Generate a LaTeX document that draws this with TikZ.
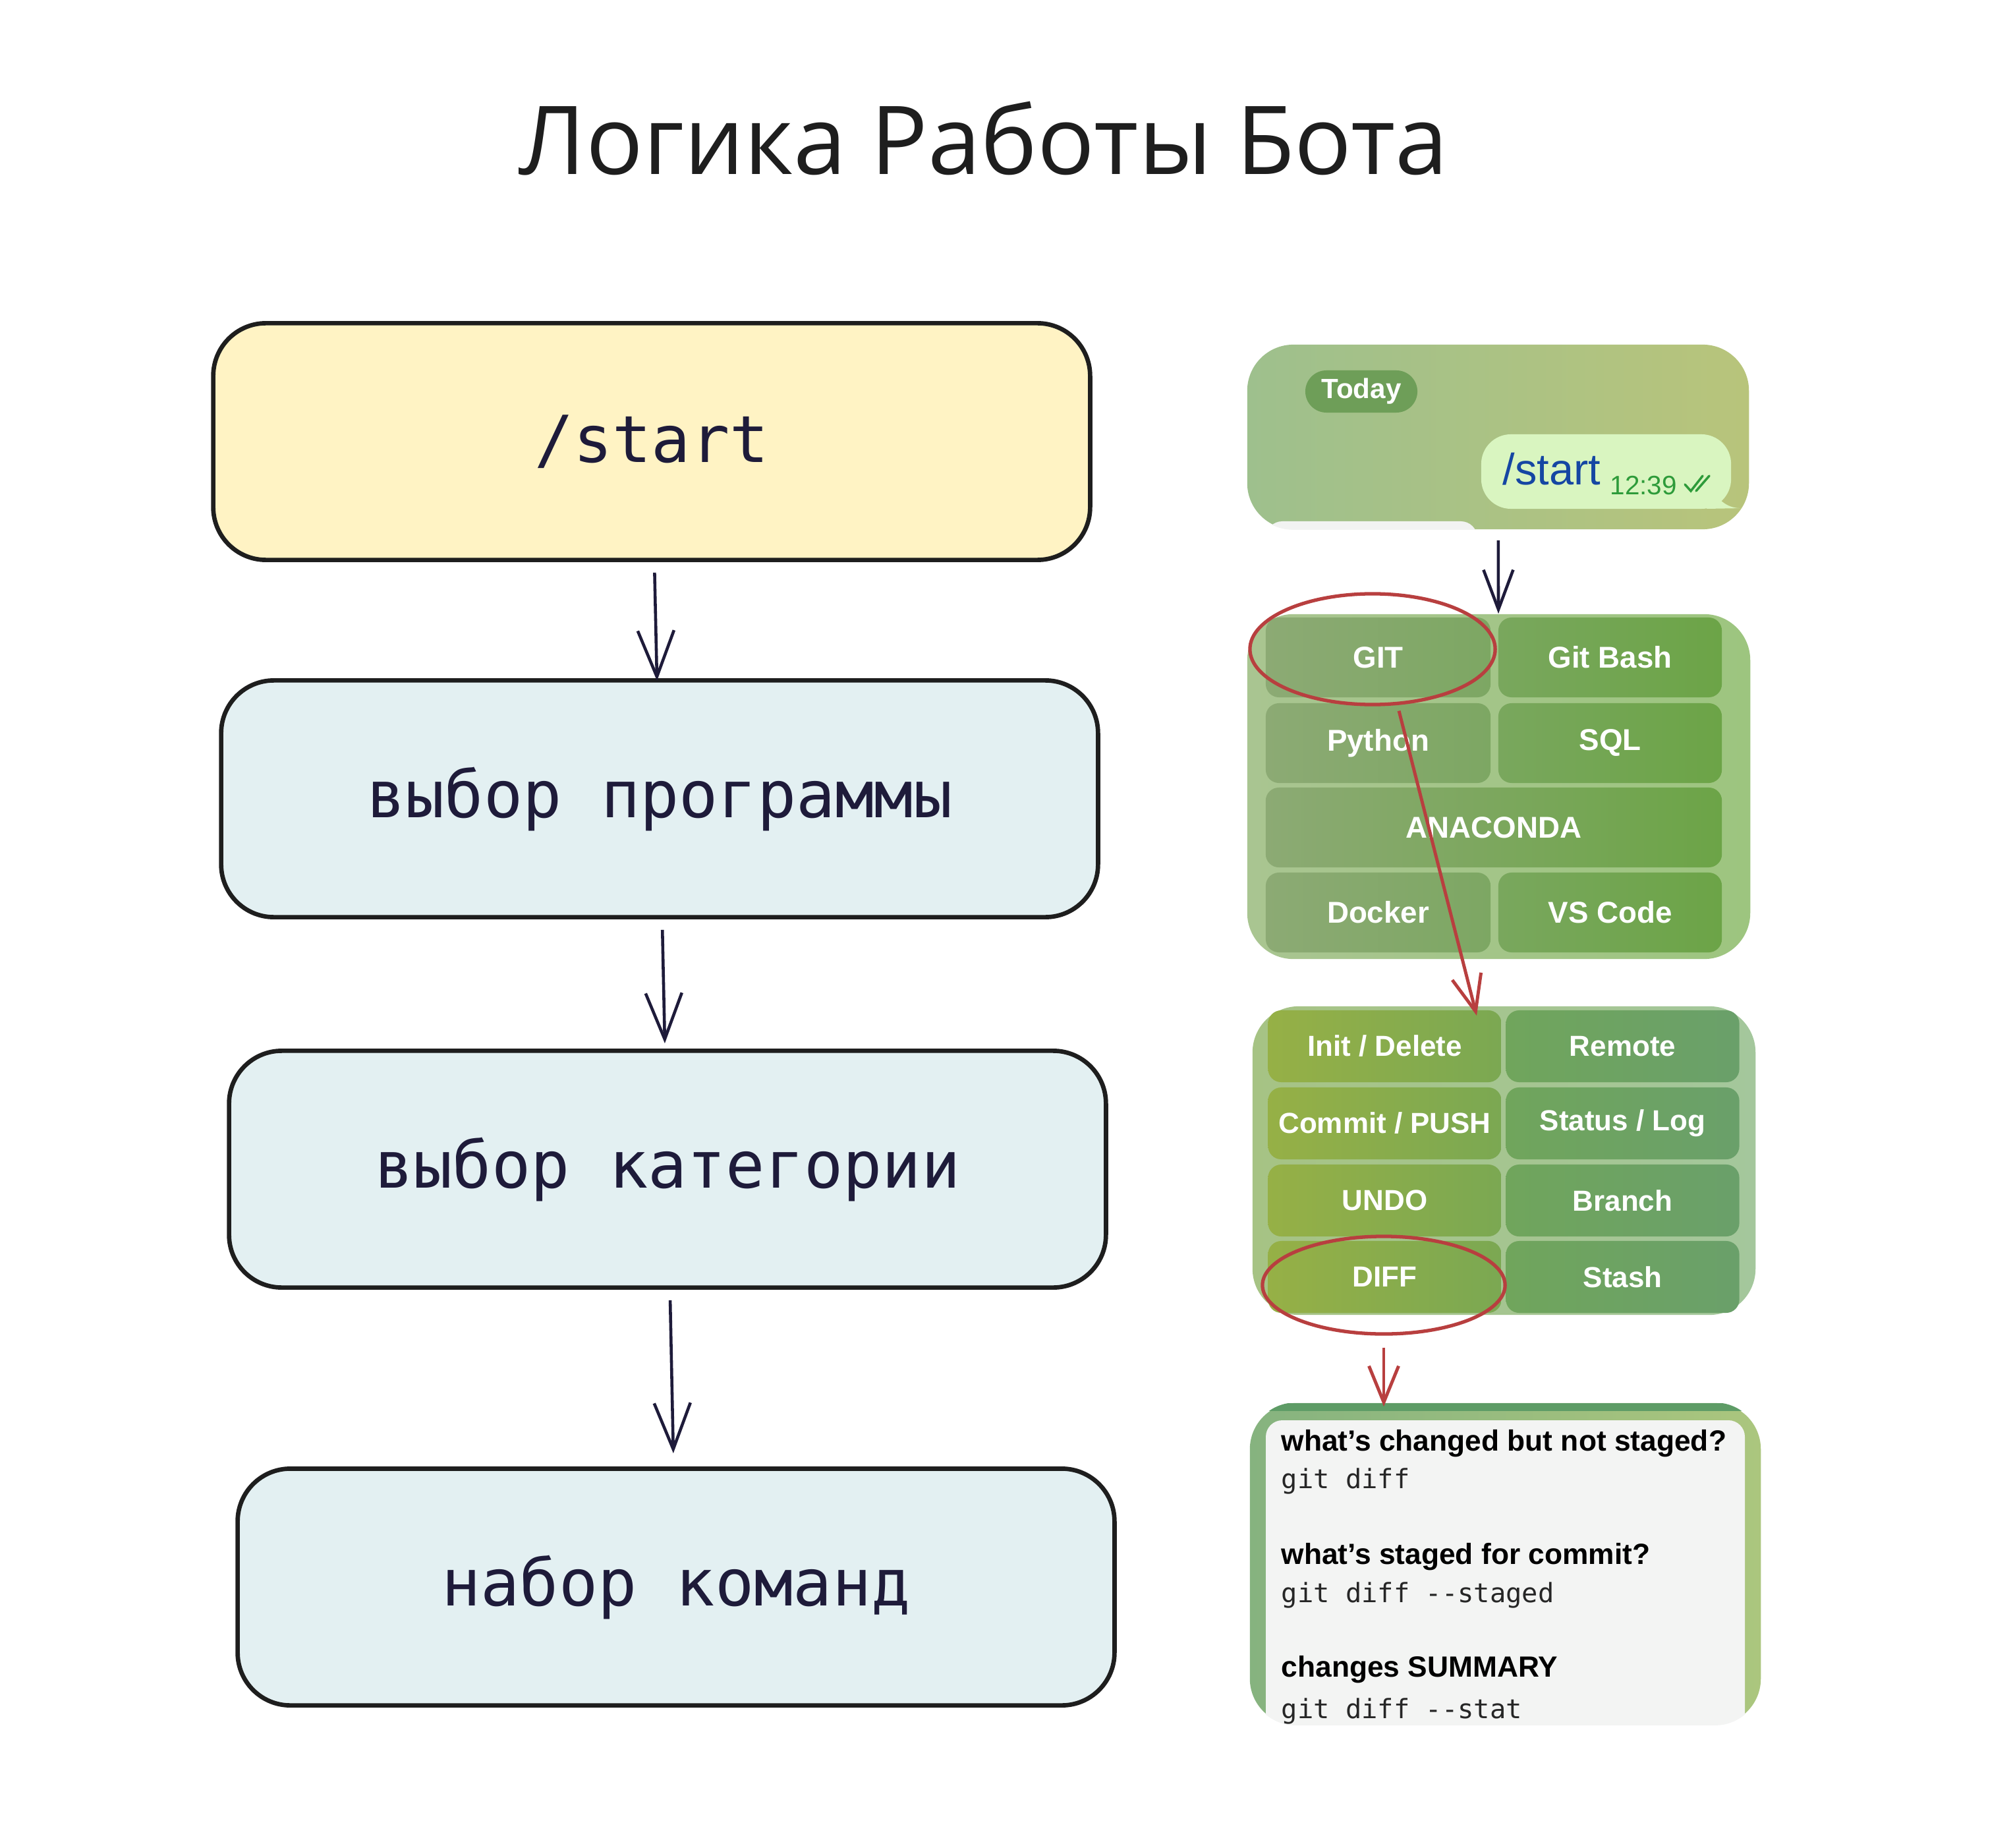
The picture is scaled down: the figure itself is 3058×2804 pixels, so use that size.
\documentclass[tikz,border=0pt]{standalone}
\usepackage{fontspec}
\setmainfont{Liberation Sans}
\setmonofont{DejaVu Sans Mono}
\newfontfamily\titlefont{Open Sans}
\usetikzlibrary{arrows.meta,positioning,calc,shapes.geometric}

\definecolor{ink}{HTML}{1E1B3A}
\definecolor{edge}{HTML}{1E1E1E}
\definecolor{boxyellow}{HTML}{FFF3C4}
\definecolor{boxblue}{HTML}{E3F0F2}
\definecolor{ringred}{HTML}{B83F3F}
\definecolor{chatA}{HTML}{9EC08D}
\definecolor{chatB}{HTML}{B8C47B}
\definecolor{pillgreen}{HTML}{6E9E58}
\definecolor{bubblegreen}{HTML}{D9F5C0}
\definecolor{tgblue}{HTML}{1546A3}
\definecolor{tggreen}{HTML}{2E9B3A}
\definecolor{stripgray}{HTML}{F2F3F2}
\definecolor{menuA}{HTML}{A9C591}
\definecolor{menuB}{HTML}{9DC57F}
\definecolor{menuC}{HTML}{A6C384}
\definecolor{menuD}{HTML}{A4C79C}
\definecolor{btnA}{HTML}{8CAA74}
\definecolor{btnB}{HTML}{7DA763}
\definecolor{btnC}{HTML}{79A75D}
\definecolor{btnD}{HTML}{6CA447}
\definecolor{gitA}{HTML}{96B046}
\definecolor{gitB}{HTML}{7BA852}
\definecolor{gitC}{HTML}{70A55C}
\definecolor{gitD}{HTML}{6AA06A}
\definecolor{ansA}{HTML}{86B37F}
\definecolor{ansB}{HTML}{ABC67E}
\definecolor{ansTop}{HTML}{5E9C66}
\definecolor{panel}{HTML}{F3F4F3}

\begin{document}
\begin{tikzpicture}[x=0.01cm, y=-0.01cm,
    flowbox/.style={draw=edge, line width=1.9pt, rounded corners=0.8cm,
        minimum width=13.3cm, minimum height=3.59cm, text=ink,
        font=\ttfamily\fontsize{28}{34}\selectfont},
    flowarrow/.style={-{Straight Barb[length=7mm,width=5.5mm]}, draw=ink,
        line width=1.3pt, shorten <=0.16cm},
    shot/.style={rounded corners=0.7cm, inner sep=0pt},
    btn/.style={rounded corners=0.2cm, inner sep=0pt, text=white,
        font=\bfseries\fontsize{13}{15}\selectfont},
    ring/.style={ellipse, draw=ringred, line width=1.5pt, inner sep=0pt},
    redarrow/.style={-{Straight Barb[length=5.5mm,width=4.5mm]}, draw=ringred,
        line width=1.4pt},
    anstitle/.style={anchor=west, inner sep=0pt, text=black,
        font=\bfseries\fontsize{12.6}{15}\selectfont},
    anscode/.style={anchor=west, inner sep=0pt, text=black!85,
        font=\ttfamily\fontsize{11.5}{14}\selectfont}]

    % Canvas
    \fill[white] (0,0) rectangle (3058,2804);
    \useasboundingbox (0,0) rectangle (3058,2804);

    % Title
    \node[font=\titlefont\fontsize{41}{48}\selectfont, text=edge, anchor=base]
        (title) at (1493,265) {Логика Работы Бота};

    % Flow on the left
    \node[flowbox, fill=boxyellow] (start) at (989,670) {/start};
    \node[flowbox, fill=boxblue] (prog) at (1001,1212) {выбор программы};
    \node[flowbox, fill=boxblue] (cat) at (1013,1774) {выбор категории};
    \node[flowbox, fill=boxblue] (cmds) at (1026,2408) {набор команд};

    \draw[flowarrow, shorten >=-0.04cm] (start) -- (prog);
    \draw[flowarrow, shorten >=0.08cm] (prog) -- (cat);
    \draw[flowarrow, shorten >=0.2cm] (cat) -- (cmds);

    % Screenshot: chat with /start
    \node[shot, minimum width=7.61cm, minimum height=2.8cm,
        left color=chatA, right color=chatB] (chat) at (2273.5,663) {};
    \begin{scope}
        \clip[rounded corners=0.7cm] (chat.north west) rectangle (chat.south east);
        \fill[stripgray, rounded corners=0.25cm] (1921,791) rectangle (2242,860);
    \end{scope}
    \node[fill=pillgreen, rounded corners=0.32cm, minimum width=1.7cm,
        minimum height=0.64cm, inner sep=0pt, text=white,
        font=\bfseries\fontsize{12}{14}\selectfont] (today) at (2066,594) {Today};
    \fill[bubblegreen] (2600,745) .. controls (2612,765) and (2628,772) .. (2645,771)
        -- (2590,772) -- cycle;
    \node[fill=bubblegreen, rounded corners=0.45cm, minimum width=3.79cm,
        minimum height=1.13cm, inner sep=0pt] (msg) at (2437.5,715.5) {};
    \node[anchor=west, inner sep=0pt, text=tgblue,
        font=\fontsize{19}{22}\selectfont] (msgtext) at (2280,712) {/start};
    \node[anchor=west, inner sep=0pt, text=tggreen,
        font=\fontsize{11.5}{13}\selectfont] (msgtime) at (2443,737) {12:39};
    \draw[tggreen, line width=1pt, line cap=round] (2557,735) -- (2566,745) -- (2584,722);
    \draw[tggreen, line width=1pt, line cap=round] (2574,745) -- (2594,722);

    % Screenshot: program menu
    \node[shot, minimum width=7.63cm, minimum height=5.23cm,
        left color=menuA, right color=menuB] (langs) at (2274.5,1193.5) {};
    \foreach \name/\label/\cx/\cy/\bw/\ca/\cb in {
        git/GIT/2091.5/997.5/3.41/btnA/btnB,
        gitbash/Git Bash/2443.5/997.5/3.39/btnC/btnD,
        python/Python/2091.5/1127.5/3.41/btnA/btnB,
        sql/SQL/2443.5/1127.5/3.39/btnC/btnD,
        anaconda/ANACONDA/2267/1255.5/6.92/btnA/btnD,
        docker/Docker/2091.5/1384.5/3.41/btnA/btnB,
        vscode/VS Code/2443.5/1384.5/3.39/btnC/btnD}
        \node[btn, minimum width=\bw cm, minimum height=1.21cm,
            left color=\ca, right color=\cb] (\name) at (\cx,\cy) {\label};

    % Screenshot: git categories
    \node[shot, minimum width=7.63cm, minimum height=4.68cm,
        left color=menuC, right color=menuD] (gitmenu) at (2282.5,1761) {};
    \foreach \name/\label/\cx/\cy/\ca/\cb in {
        init/{Init / Delete}/2101.5/1587.5/gitA/gitB,
        remote/Remote/2462.5/1587.5/gitC/gitD,
        commit/{Commit / PUSH}/2101.5/1704.5/gitA/gitB,
        status/{Status / Log}/2462.5/1704.5/gitC/gitD,
        undo/UNDO/2101.5/1821.5/gitA/gitB,
        branch/Branch/2462.5/1821.5/gitC/gitD,
        diff/DIFF/2101.5/1937.5/gitA/gitB,
        stash/Stash/2462.5/1937.5/gitC/gitD}
        \node[btn, minimum width=3.54cm, minimum height=1.09cm,
            font=\bfseries\fontsize{12.5}{15}\selectfont,
            left color=\ca, right color=\cb] (\name) at (\cx,\cy) {\label};

    % Screenshot: diff commands
    \node[shot, minimum width=7.75cm, minimum height=4.88cm,
        left color=ansA, right color=ansB] (answer) at (2284.5,2373) {};
    \begin{scope}
        \clip[rounded corners=0.7cm] (answer.north west) rectangle (answer.south east);
        \fill[ansTop] (1897,2129) rectangle (2672,2141);
        \fill[panel, rounded corners=0.25cm] (1921,2155) rectangle (2648,2700);
        \node[anstitle] (q1) at (1944,2190) {what's changed but not staged?};
        \node[anscode] (c1) at (1944,2247) {git diff};
        \node[anstitle] (q2) at (1944,2362) {what's staged for commit?};
        \node[anscode] (c2) at (1944,2420) {git diff --staged};
        \node[anstitle] (q3) at (1944,2533) {changes SUMMARY};
        \node[anscode] (c3) at (1944,2596) {git diff --stat};
    \end{scope}

    % Red marks
    \node[ring, minimum width=3.72cm, minimum height=1.68cm] (gitring) at (2083,985) {};
    \node[ring, minimum width=3.68cm, minimum height=1.48cm] (diffring) at (2100,1950) {};
    \coordinate (inittip) at (2241,1541);

    \draw[flowarrow, -{Straight Barb[length=6mm,width=4.5mm]}] (chat) -- (langs);
    \draw[redarrow, shorten <=0.09cm] (gitring.294) -- (inittip);
    \draw[redarrow, shorten <=0.18cm, shorten >=-0.06cm]
        (diffring.south) -- (diffring.south |- answer.north);
\end{tikzpicture}
\end{document}
